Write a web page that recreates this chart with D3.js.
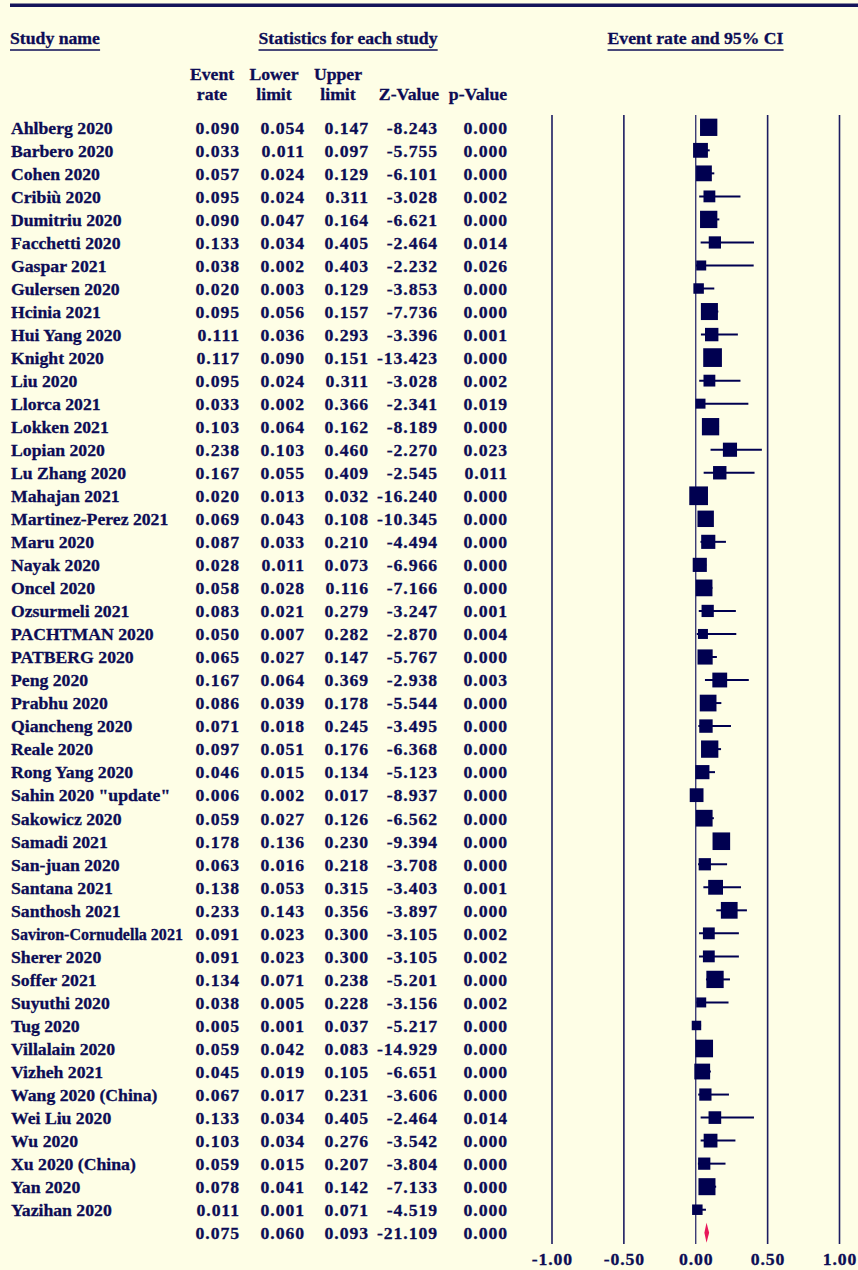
<!DOCTYPE html>
<html>
<head>
<meta charset="utf-8">
<script src="https://cdn.jsdelivr.net/npm/d3@7"></script>
<style>
  html, body { margin: 0; padding: 0; background: #fefee6; }
  svg { display: block; }
  text { font-family: "Liberation Serif", "Times New Roman", serif; font-weight: bold; fill: #0c0c55;
         stroke: #0c0c55; stroke-width: 0.3px; }
  text.num { letter-spacing: 0.9px; }
</style>
</head>
<body>
<svg id="chart" width="858" height="1270"></svg>
<script>
// Study-level results (event rate, 95% CI, test statistics, relative weight %)
const studies = [
  "Ahlberg 2020", "Barbero 2020", "Cohen 2020", "Cribiù 2020", "Dumitriu 2020",
  "Facchetti 2020", "Gaspar 2021", "Gulersen 2020", "Hcinia 2021", "Hui Yang 2020",
  "Knight 2020", "Liu 2020", "Llorca 2021", "Lokken 2021", "Lopian 2020",
  "Lu Zhang 2020", "Mahajan 2021", "Martinez-Perez 2021", "Maru 2020", "Nayak 2020",
  "Oncel 2020", "Ozsurmeli 2021", "PACHTMAN 2020", "PATBERG 2020", "Peng 2020",
  "Prabhu 2020", "Qiancheng 2020", "Reale 2020", "Rong Yang 2020", "Sahin 2020 \"update\"",
  "Sakowicz 2020", "Samadi 2021", "San-juan 2020", "Santana 2021", "Santhosh 2021",
  "Saviron-Cornudella 2021", "Sherer 2020", "Soffer 2021", "Suyuthi 2020", "Tug 2020",
  "Villalain 2020", "Vizheh 2021", "Wang 2020 (China)", "Wei Liu 2020", "Wu 2020",
  "Xu 2020 (China)", "Yan 2020", "Yazihan 2020"
];
const eventRate = [
  0.090, 0.033, 0.057, 0.095, 0.090, 0.133, 0.038, 0.020, 0.095, 0.111,
  0.117, 0.095, 0.033, 0.103, 0.238, 0.167, 0.020, 0.069, 0.087, 0.028,
  0.058, 0.083, 0.050, 0.065, 0.167, 0.086, 0.071, 0.097, 0.046, 0.006,
  0.059, 0.178, 0.063, 0.138, 0.233, 0.091, 0.091, 0.134, 0.038, 0.005,
  0.059, 0.045, 0.067, 0.133, 0.103, 0.059, 0.078, 0.011
];
const lowerLimit = [
  0.054, 0.011, 0.024, 0.024, 0.047, 0.034, 0.002, 0.003, 0.056, 0.036,
  0.090, 0.024, 0.002, 0.064, 0.103, 0.055, 0.013, 0.043, 0.033, 0.011,
  0.028, 0.021, 0.007, 0.027, 0.064, 0.039, 0.018, 0.051, 0.015, 0.002,
  0.027, 0.136, 0.016, 0.053, 0.143, 0.023, 0.023, 0.071, 0.005, 0.001,
  0.042, 0.019, 0.017, 0.034, 0.034, 0.015, 0.041, 0.001
];
const upperLimit = [
  0.147, 0.097, 0.129, 0.311, 0.164, 0.405, 0.403, 0.129, 0.157, 0.293,
  0.151, 0.311, 0.366, 0.162, 0.460, 0.409, 0.032, 0.108, 0.210, 0.073,
  0.116, 0.279, 0.282, 0.147, 0.369, 0.178, 0.245, 0.176, 0.134, 0.017,
  0.126, 0.230, 0.218, 0.315, 0.356, 0.300, 0.300, 0.238, 0.228, 0.037,
  0.083, 0.105, 0.231, 0.405, 0.276, 0.207, 0.142, 0.071
];
const zValue = [
  -8.243, -5.755, -6.101, -3.028, -6.621, -2.464, -2.232, -3.853, -7.736, -3.396,
  -13.423, -3.028, -2.341, -8.189, -2.270, -2.545, -16.240, -10.345, -4.494, -6.966,
  -7.166, -3.247, -2.870, -5.767, -2.938, -5.544, -3.495, -6.368, -5.123, -8.937,
  -6.562, -9.394, -3.708, -3.403, -3.897, -3.105, -3.105, -5.201, -3.156, -5.217,
  -14.929, -6.651, -3.606, -2.464, -3.542, -3.804, -7.133, -4.519
];
const pValue = [
  0.000, 0.000, 0.000, 0.002, 0.000, 0.014, 0.026, 0.000, 0.000, 0.001,
  0.000, 0.002, 0.019, 0.000, 0.023, 0.011, 0.000, 0.000, 0.000, 0.000,
  0.000, 0.001, 0.004, 0.000, 0.003, 0.000, 0.000, 0.000, 0.000, 0.000,
  0.000, 0.000, 0.000, 0.001, 0.000, 0.002, 0.002, 0.000, 0.002, 0.000,
  0.000, 0.000, 0.000, 0.014, 0.000, 0.000, 0.000, 0.000
];
const weight = [
  3.0, 2.2, 2.5, 1.4, 3.0, 1.5, 1.0, 1.1, 2.9, 1.8,
  3.5, 1.4, 1.0, 3.0, 2.0, 1.8, 3.5, 2.7, 2.0, 2.0,
  2.8, 1.5, 1.0, 2.3, 2.2, 2.8, 1.8, 3.0, 2.0, 1.9,
  2.8, 3.1, 1.5, 2.2, 2.8, 1.4, 1.4, 3.0, 1.0, 0.9,
  3.1, 2.5, 1.5, 1.6, 1.9, 1.5, 2.9, 1.1
];
// Pooled estimate
const pooled = { rate: 0.075, lower: 0.060, upper: 0.093, z: -21.109, p: 0.000 };
const axisTicks = [-1.00, -0.50, 0.00, 0.50, 1.00];

const ink = "#000050";
const svg = d3.select("#chart");
// three decimals with a plain hyphen for negatives
const fmt = v => d3.format(".3f")(v).replace("\u2212", "-");
const fmt2 = v => d3.format(".2f")(v).replace("\u2212", "-");
const FS = 17.7;

const rows = studies.map((name, i) => ({
  name, rate: eventRate[i], lower: lowerLimit[i], upper: upperLimit[i],
  z: zValue[i], p: pValue[i], w: weight[i], i
}));

// Row positions: one band per study plus one for the pooled line
const y = d3.scaleLinear().domain([0, rows.length]).range([127.3, 127.3 + rows.length * 23.03]);
const x = d3.scaleLinear().domain([-1, 1]).range([552, 839.5]);
const boxSide = d3.scaleSqrt().domain([0, d3.max(weight)]).range([0, 18.7]);

// Top rule
svg.append("rect").attr("x", 10).attr("y", 3.5).attr("width", 848).attr("height", 3.5).attr("fill", "#14145a");

// Column headers
const underlined = [
  { t: "Study name", x: 10, anchor: "start" },
  { t: "Statistics for each study", x: 348, anchor: "middle" },
  { t: "Event rate and 95% CI", x: 695.5, anchor: "middle" }
];
underlined.forEach(h => {
  const t = svg.append("text").attr("x", h.x).attr("y", 44).attr("text-anchor", h.anchor)
    .attr("font-size", FS).text(h.t);
  const bb = t.node().getBBox();
  svg.append("line").attr("x1", bb.x).attr("x2", bb.x + bb.width)
    .attr("y1", 50).attr("y2", 50).attr("stroke", "#0c0c55").attr("stroke-width", 1.5);
});

const colRight = [239, 304, 368, 437, 507];
const subHeads = [
  { l1: "Event", l2: "rate", x: 212 },
  { l1: "Lower", l2: "limit", x: 274 },
  { l1: "Upper", l2: "limit", x: 338 },
  { l1: "", l2: "Z-Value", x: 409 },
  { l1: "", l2: "p-Value", x: 478 }
];
subHeads.forEach(h => {
  if (h.l1) svg.append("text").attr("x", h.x).attr("y", 79.5).attr("text-anchor", "middle").attr("font-size", FS).text(h.l1);
  svg.append("text").attr("x", h.x).attr("y", 100).attr("text-anchor", "middle").attr("font-size", FS).text(h.l2);
});

// Table body
const body = svg.append("g").attr("font-size", FS);
const rowG = body.selectAll("g.row").data(rows).join("g").attr("class", "row")
  .attr("transform", d => `translate(0,${y(d.i) + 6.3})`);
const nameX = 11, nameMaxWidth = 172;
rowG.append("text").attr("x", nameX).text(d => d.name)
  .each(function () {
    // shrink a long study name so it stays clear of the first number column
    const w = this.getComputedTextLength();
    if (w > nameMaxWidth) {
      d3.select(this).attr("font-size", FS * nameMaxWidth / w);
    }
  });
const cols = [d => fmt(d.rate), d => fmt(d.lower), d => fmt(d.upper), d => fmt(d.z), d => fmt(d.p)];
cols.forEach((f, k) => {
  rowG.append("text").attr("class", "num").attr("x", colRight[k] + 0.9).attr("text-anchor", "end").text(f);
});
const pooledVals = [pooled.rate, pooled.lower, pooled.upper, pooled.z, pooled.p];
pooledVals.forEach((v, k) => {
  body.append("text").attr("class", "num").attr("x", colRight[k] + 0.9).attr("y", y(rows.length) + 6.3)
    .attr("text-anchor", "end").text(fmt(v));
});

// Reference lines of the forest plot
svg.append("g").selectAll("line").data(axisTicks).join("line")
  .attr("x1", d => x(d)).attr("x2", d => x(d))
  .attr("y1", 115).attr("y2", 1244)
  .attr("stroke", "#1c1c62").attr("stroke-width", d => d === 0 ? 1.2 : 1.6);

// Tick labels
svg.append("g").attr("font-size", FS).selectAll("text").data(axisTicks).join("text")
  .attr("class", "num")
  .attr("x", d => x(d) + 0.45).attr("y", 1265).attr("text-anchor", "middle")
  .text(fmt2);

// Confidence intervals and weighted boxes
const marks = svg.append("g");
marks.selectAll("line.ci").data(rows).join("line").attr("class", "ci")
  .attr("x1", d => x(d.lower)).attr("x2", d => x(d.upper))
  .attr("y1", d => y(d.i)).attr("y2", d => y(d.i))
  .attr("stroke", ink).attr("stroke-width", 2);
marks.selectAll("rect.box").data(rows).join("rect").attr("class", "box")
  .attr("x", d => x(d.rate) - boxSide(d.w) / 2)
  .attr("y", d => y(d.i) - boxSide(d.w) / 2)
  .attr("width", d => boxSide(d.w)).attr("height", d => boxSide(d.w))
  .attr("fill", ink);

// Pooled diamond
const yc = y(rows.length);
marks.append("path")
  .attr("d", `M${x(pooled.lower)},${yc} L${x(pooled.rate)},${yc - 10} L${x(pooled.upper)},${yc} L${x(pooled.rate)},${yc + 10} Z`)
  .attr("fill", "#e8185a");
</script>
</body>
</html>
